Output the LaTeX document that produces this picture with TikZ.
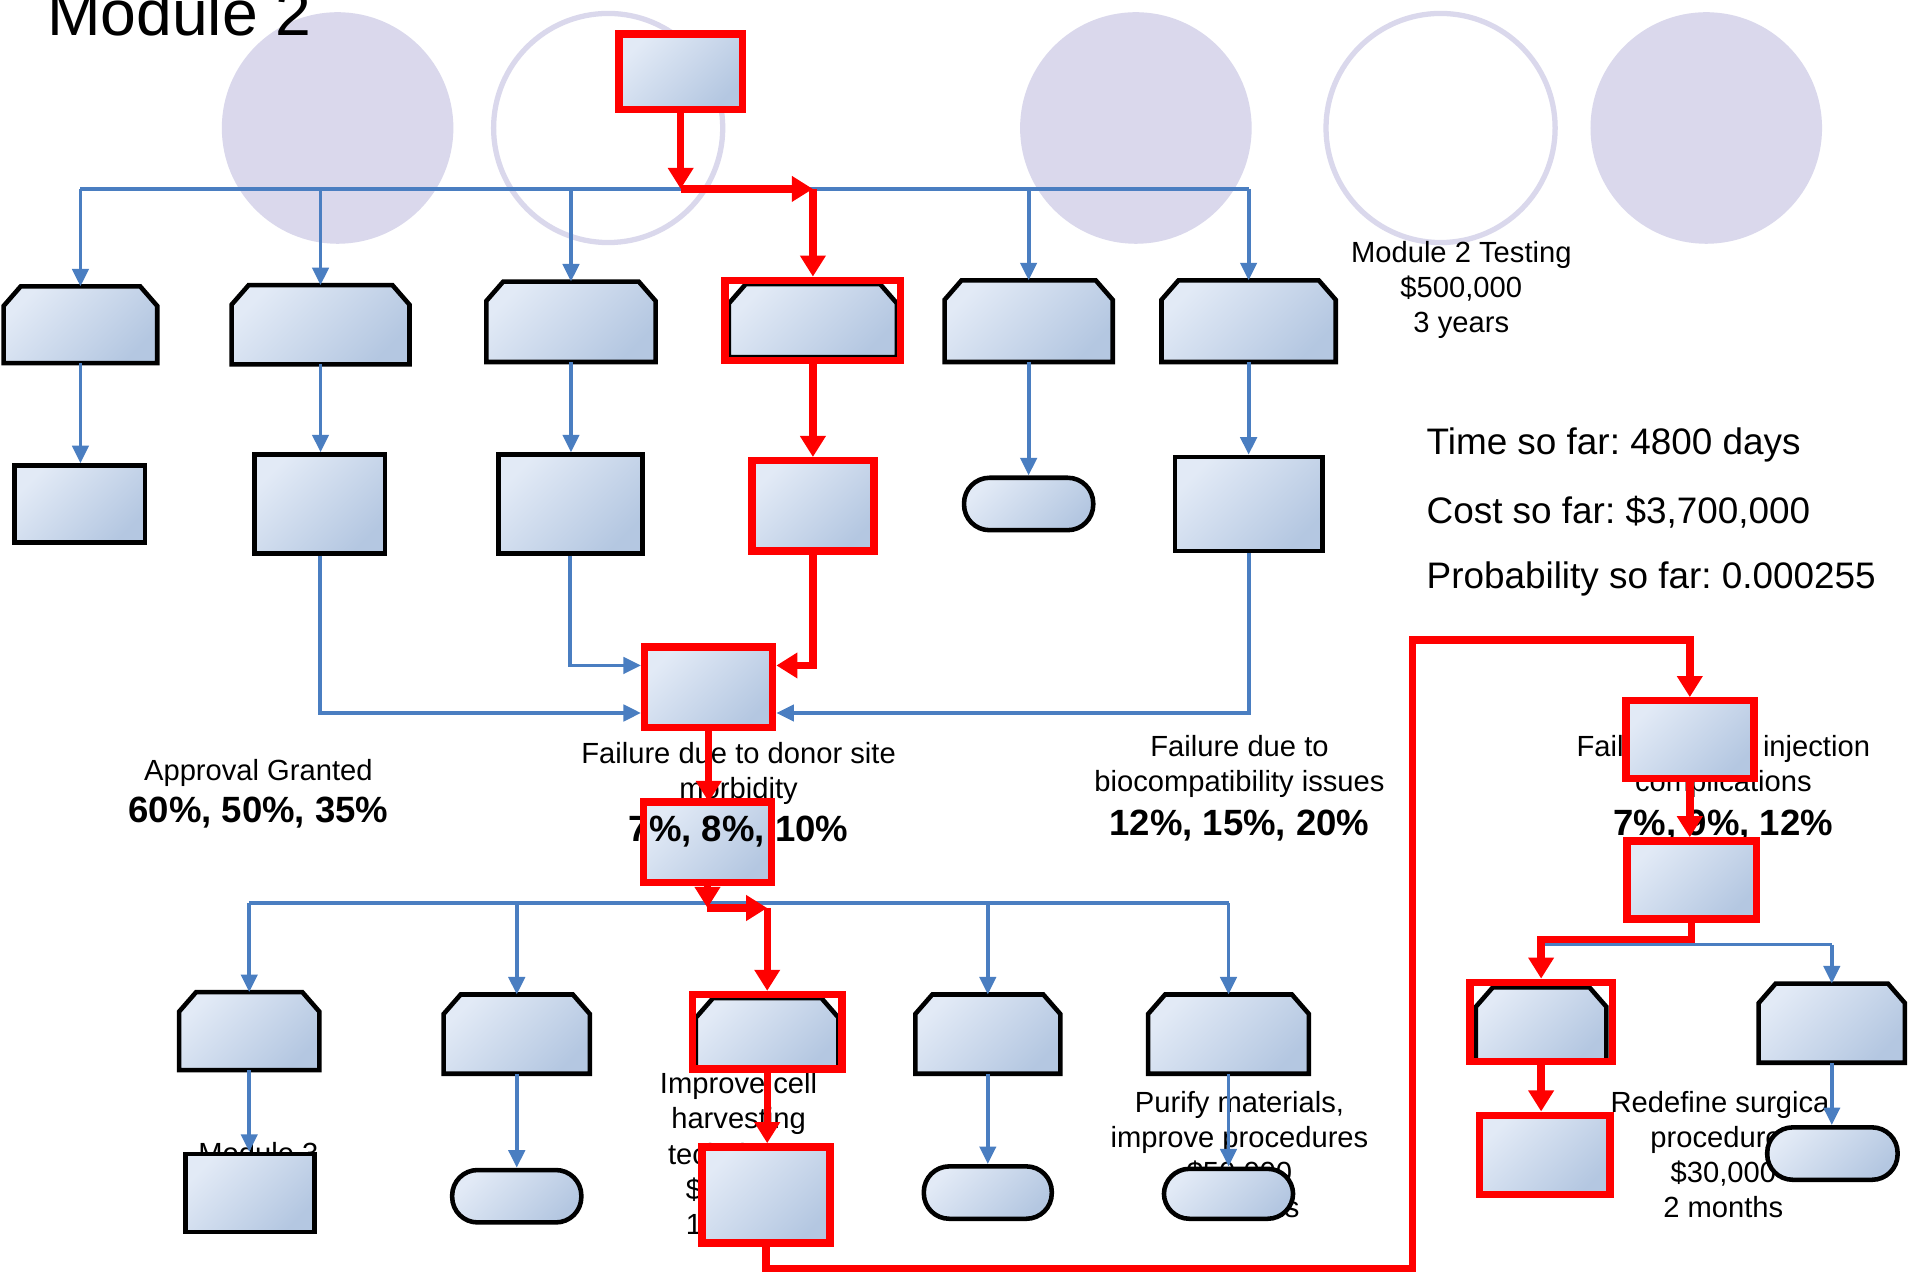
\documentclass[tikz,border=0pt]{standalone}
\usepackage{fontspec}
\setmainfont{Liberation Sans}
\usetikzlibrary{arrows.meta,fit}
\definecolor{gtop}{RGB}{226,234,246}
\definecolor{gbot}{RGB}{180,199,225}
\definecolor{lblue}{RGB}{74,126,193}
\definecolor{lav}{RGB}{218,216,236}
\frenchspacing
% chamfered (cut top corners) outline around a blank fit node
\newcommand\chamf[1]{\path[box] ([yshift=-0.195cm]#1.north west) -- ([xshift=0.17cm]#1.north west)
  -- ([xshift=-0.17cm]#1.north east) -- ([yshift=-0.195cm]#1.north east)
  -- (#1.south east) -- (#1.south west) -- cycle;}
\begin{document}
\begin{tikzpicture}[x=0.012188cm,y=-0.012188cm,
  every node/.style={inner sep=0pt},
  gfill/.style={top color=gtop,bottom color=gbot,shading angle=45},
  box/.style={gfill,draw=black,line width=1.3pt},
  rbox/.style={gfill,draw=red,line width=2.1pt},
  frame/.style={draw=red,line width=2.1pt},
  term/.style={box,rounded corners=0.255cm},
  blk/.style={inner sep=0pt,outer sep=0pt},
  bl/.style={draw=lblue,line width=1.1pt},
  ba/.style={bl,-{Triangle[length=5pt,width=4.6pt]}},
  rl/.style={draw=red,line width=2.1pt},
  ra/.style={rl,-{Triangle[length=6pt,width=7pt]}},
  lab/.style={font=\fontsize{8.3}{10}\selectfont,align=center},
  pct/.style={font=\fontsize{10.4}{12}\selectfont\bfseries},
  stat/.style={font=\fontsize{10.5}{12}\selectfont,anchor=west},
]
\useasboundingbox (0,0) rectangle (1568,1049);
\fill[white] (0,0) rectangle (1568,1049);

% decorative discs along the top
\fill[lav] (277,105) circle[radius=95];
\draw[lav,line width=1.5pt] (499,105) circle[radius=94];
\fill[lav] (932,105) circle[radius=95];
\draw[lav,line width=1.5pt] (1182,105) circle[radius=94];
\fill[lav] (1400,105) circle[radius=95];

\node[anchor=base west,font=\fontsize{18.3}{20}\selectfont] (title) at (38,29.5) {Module 2};

% labels
\node[lab] (tTest) at (1199,238) {Module 2 Testing\\\$500,000\\3 years};
\node[stat] (tTime) at (1170,365) {Time so far: 4800 days};
\node[stat] (tCost) at (1170,420) {Cost so far: \$3,700,000};
\node[stat] (tProb) at (1170,475) {Probability so far: 0.000255};
\node[lab] (tAppr) at (212,634) {Approval Granted};
\node[pct] (pAppr) at (212,667) {60\%, 50\%, 35\%};
\node[lab] (tDonor) at (606,634.5) {Failure due to donor site\\morbidity};
\node[lab] (tBio) at (1017,629) {Failure due to\\biocompatibility issues};
\node[pct] (pBio) at (1017,677) {12\%, 15\%, 20\%};
\node[lab] (tInj) at (1414,629) {Failure due to injection\\complications};
\node[pct] (pInj) at (1414,677) {7\%, 9\%, 12\%};
\node[lab] (tCell) at (606,946.5) {Improve cell\\harvesting\\techniques\\\$50,000\\1 month};
\node[lab] (tPur) at (1017,947.5) {Purify materials,\\improve procedures\\\$50,000\\6 months};
\node[lab] (tSurg) at (1414,947.5) {Redefine surgical\\procedures\\\$30,000\\2 months};
\node[lab] (tM3) at (212,946) {Module 3};

% top box
\node[rbox,fit={(508,28)(609,90)}] (T) {};

% row 1
\node[blk,fit={(3,235)(129,298)}] (a1) {}; \chamf{a1}
\node[blk,fit={(190,234)(336,299)}] (a2) {}; \chamf{a2}
\node[blk,fit={(399,231)(538,297)}] (a3) {}; \chamf{a3}
\node[blk,fit={(598,233)(736,293)}] (a4s) {}; \chamf{a4s}
\node[frame,fit={(595,230)(739,296)}] (a4) {};
\node[blk,fit={(775,230)(913,297)}] (a5) {}; \chamf{a5}
\node[blk,fit={(953,230)(1096,297)}] (a6) {}; \chamf{a6}

% row 2
\node[box,fit={(12,382)(119,445)}] (b1) {};
\node[box,fit={(209,373)(316,454)}] (b2) {};
\node[box,fit={(409,373)(527,454)}] (b3) {};
\node[rbox,fit={(617,378)(717,452)}] (b4) {};
\node[term,fit={(791,392)(897,435)}] (b5) {};
\node[box,fit={(964,375)(1085,452)}] (b6) {};

% merge and outcome boxes
\node[rbox,fit={(529,531)(634,597)}] (M) {};
\node[gfill,outer sep=0pt,fit={(528,658)(633,724)}] (F) {};

% row 3
\node[blk,fit={(147,814)(262,878)}] (c1) {}; \chamf{c1}
\node[blk,fit={(364,816)(484,881)}] (c2) {}; \chamf{c2}
\node[blk,fit={(571,819)(688,877)}] (c3s) {}; \chamf{c3s}
\node[frame,fit={(568,816)(691,877)}] (c3) {};
\node[blk,fit={(751,816)(870,881)}] (c4) {}; \chamf{c4}
\node[blk,fit={(942,816)(1074,881)}] (c5) {}; \chamf{c5}

% row 4
\node[box,fit={(152,947)(258,1011)}] (d1) {};
\node[term,fit={(371,960)(477,1003)}] (d2) {};
\node[rbox,fit={(576,941)(681,1020)}] (d3) {};
\node[term,fit={(758,957)(863,1000)}] (d4) {};
\node[term,fit={(955,959)(1061,1000)}] (d5) {};

% right branch
\node[rbox,fit={(1334,575)(1439,639)}] (R1) {};
\node[rbox,fit={(1335,690)(1441,754)}] (R2) {};
\node[blk,fit={(1211,810)(1318,871)}] (e1s) {}; \chamf{e1s}
\node[frame,fit={(1206,806)(1323,871)}] (e1) {};
\node[blk,fit={(1443,807)(1563,872)}] (e2) {}; \chamf{e2}
\node[rbox,fit={(1214,915)(1321,980)}] (f1) {};
\node[term,fit={(1450,925)(1557,968)}] (f2) {};

% blue connectors
\coordinate (bus1) at (0,155);
\coordinate (bus2) at (0,741);
\coordinate (bus2r) at (0,745);
\coordinate (y546) at (0,546);
\coordinate (y585) at (0,585);
\coordinate (brR) at (0,771);
\coordinate (brB) at (0,775);
\coordinate (loopB) at (1159,1041);
\coordinate (loopT) at (1159,525);

\draw[bl] (a1.north |- bus1) -- (a6.north |- bus1);
\foreach \n in {a1,a2,a3,a5,a6} \draw[ba] (\n.north |- bus1) -- (\n.north);
\foreach \u/\v in {a1/b1,a2/b2,a3/b3,a5/b5,a6/b6} \draw[ba] (\u.south) -- (\u.south |- \v.north);
\draw[ba] (b2.south) |- (M.west |- y585);
\draw[ba] (b3.south) |- (M.west |- y546);
\draw[ba] (b6.south) |- (M.east |- y585);

\draw[bl] (c1.north |- bus2) -- (c5.north |- bus2);
\foreach \n in {c1,c2,c4,c5} \draw[ba] (\n.north |- bus2) -- (\n.north);
\foreach \u/\v in {c1/d1,c2/d2,c4/d4,c5/d5} \draw[ba] (\u.south) -- (\u.south |- \v.north);

\draw[bl] (e1.north |- brB) -- (e2.north |- brB);
\draw[ba] (e2.north |- brB) -- (e2.north);
\draw[ba] (e2.south) -- (e2.south |- f2.north);

% highlighted path
\draw[ra] (T.south) -- (T.south |- bus1);
\draw[ra] (T.south |- bus1) -- (a4.north |- bus1);
\draw[ra] (a4.north |- bus1) -- (a4.north);
\draw[ra] (a4.south) -- (a4.south |- b4.north);
\draw[ra] (b4.south) |- (M.east |- y546);
\draw[ra] (M.south) -- (M.south |- F.north);
\draw[ra] (F.south) -- (F.south |- bus2r);
\draw[ra] (F.south |- bus2r) -- (c3.north |- bus2r);
\draw[ra] (c3.north |- bus2r) -- (c3.north);
\draw[ra] (c3.south) -- (c3.south |- d3.north);
\draw[ra] (d3.south) |- (loopB) -- (loopT) -| (R1.north);
\draw[ra] (R1.south) -- (R1.south |- R2.north);
\draw[ra] (R2.south) |- (e1.north |- brR) -- (e1.north);
\draw[ra] (e1.south) -- (e1.south |- f1.north);

% outcome figures printed over the box, under its frame
\node[pct] (pDonor) at (606,682) {7\%, 8\%, 10\%};
\draw[frame] (F.south west) rectangle (F.north east);
\end{tikzpicture}
\end{document}
